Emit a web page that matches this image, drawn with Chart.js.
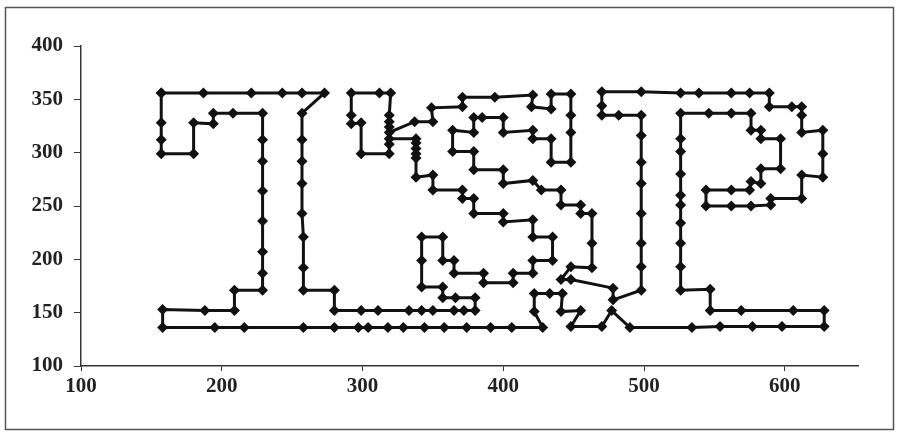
<!DOCTYPE html>
<html><head><meta charset="utf-8">
<script src="https://cdn.jsdelivr.net/npm/chart.js@4/dist/chart.umd.min.js"></script>
<style>html,body{margin:0;padding:0;background:#fff}canvas{display:block}</style>
</head><body>
<canvas id="c" width="903" height="435"></canvas>
<script>
// Tour order (x values)
const tourX = [
157,187,221,243,257,273,257,257,257,257,257,258,258,258,280,280,
299,311,333,342,350,365,372,380,380,366,357,357,342,342,342,357,357,365,365,386,386,407,407,421,421,435,435,421,421,
400,400,379,379,371,371,350,350,338,338,338,338,338,338,319,319,319,299,299,292,292,292,312,320,319,319,319,319,
337,350,349,371,371,394,421,420,434,434,448,448,448,448,434,434,421,421,400,400,385,379,379,364,364,379,379,400,400,
421,427,441,441,455,455,463,463,463,448,441,448,478,478,498,
498,498,498,498,498,498,498,482,470,470,470,498,526,539,562,575,589,589,605,612,612,612,627,627,627,612,612,590,590,
576,562,544,544,562,575,576,583,583,597,597,583,583,576,576,562,546,526,526,526,526,526,526,526,526,526,526,547,547,
569,606,628,628,598,577,554,534,490,477,470,448,455,441,442,433,422,422,428,406,391,374,358,344,329,318,304,297,280,
258,216,195,158,158,188,209,209,229,229,229,229,229,229,229,229,208,194,194,180,180,157,157,157
];
// Tour order (y values)
const tourY = [
356,356,356,356,356,356,337,312,292,271,243,221,192,171,171,152,
152,152,152,152,152,152,152,152,164,164,164,174,174,199,221,221,199,199,187,187,178,178,187,187,199,199,221,221,237,
235,243,243,257,257,265,265,279,277,295,299,304,309,313,313,308,299,299,328,327,335,356,356,356,335,329,324,319,
329,329,342,343,352,352,354,343,341,355,355,335,319,291,291,313,313,321,319,333,333,333,319,321,301,301,284,284,271,
274,265,265,251,251,243,243,215,192,193,181,181,173,162,171,
193,215,243,271,291,316,335,335,335,344,357,357,356,356,356,356,356,343,343,343,335,319,321,299,277,279,257,257,251,
250,250,250,265,265,265,273,271,285,285,313,313,321,321,337,337,337,337,313,301,280,260,251,234,215,193,171,172,152,
152,152,152,137,137,137,137,136,136,152,137,137,152,151,168,168,168,151,136,136,136,136,136,136,136,136,136,136,136,
136,136,136,136,153,152,152,171,171,187,207,236,264,292,312,337,337,337,327,328,299,299,312,328
];
const xTickValues = [100, 200, 300, 400, 500, 600];
const yTickValues = [100, 150, 200, 250, 300, 350, 400];

const pts = tourX.map((x, i) => ({x: x, y: tourY[i]}));
pts.push({x: tourX[0], y: tourY[0]}); // close the tour

const framePlugin = {
  id: 'frame',
  beforeDraw(chart) {
    const ctx = chart.ctx;
    ctx.save();
    ctx.fillStyle = '#fff';
    ctx.fillRect(0, 0, chart.width, chart.height);
    ctx.strokeStyle = '#555';
    ctx.lineWidth = 1.5;
    ctx.strokeRect(5.5, 7.5, 888, 422);
    ctx.restore();
  }
};

const tickFont = {family: "'Liberation Serif', 'Times New Roman', serif", size: 21, weight: 'bold'};

new Chart(document.getElementById('c'), {
  type: 'scatter',
  data: {
    datasets: [{
      data: pts,
      showLine: true,
      tension: 0,
      borderColor: '#111',
      borderWidth: 3,
      backgroundColor: '#111',
      pointStyle: 'rectRot',
      pointRadius: 5.5,
      pointBorderWidth: 0,
      pointBackgroundColor: '#111',
      clip: false
    }]
  },
  options: {
    responsive: false,
    animation: false,
    devicePixelRatio: 1,
    layout: {padding: {left: 0, right: 45, top: 46, bottom: 0}},
    plugins: {legend: {display: false}, tooltip: {enabled: false}},
    scales: {
      x: {
        type: 'linear', min: 100, max: 652,
        afterFit: s => { s.height = 69; },
        afterBuildTicks: s => { s.ticks = xTickValues.map(v => ({value: v})); },
        ticks: {stepSize: 100, includeBounds: false, color: '#222', font: tickFont, padding: 3, maxRotation: 0},
        grid: {display: true, drawOnChartArea: false, drawTicks: true, tickLength: 5, color: '#333', lineWidth: 1},
        border: {display: true, color: '#333', width: 1.5}
      },
      y: {
        type: 'linear', min: 100, max: 400,
        afterFit: s => { s.width = 81; },
        afterBuildTicks: s => { s.ticks = yTickValues.map(v => ({value: v})); },
        ticks: {stepSize: 50, color: '#222', font: tickFont, padding: 11},
        grid: {display: true, drawOnChartArea: false, drawTicks: true, tickLength: 7, color: '#333', lineWidth: 1},
        border: {display: true, color: '#333', width: 1.5}
      }
    }
  },
  plugins: [framePlugin]
});
</script>
</body></html>
